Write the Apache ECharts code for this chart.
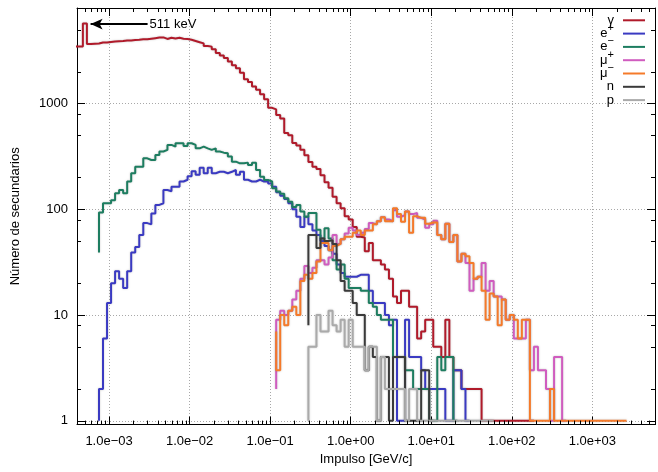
<!DOCTYPE html>
<html>
<head>
<meta charset="utf-8">
<script src="https://cdn.jsdelivr.net/npm/echarts@6/dist/echarts.min.js"></script>
<style>
html,body{margin:0;padding:0;background:#ffffff;}
#chart{width:658px;height:472px;}
</style>
</head>
<body>
<div id="chart"></div>
<script>
// ---------- histogram binning: point k sits at log10(p) = binLog0 + binDLog*k ----------
const binLog0 = -3.425;
const binDLog = 0.05;

// ---------- series values (first bin index + counts per bin, 0 = empty bin) ----------
const gammaStart = 0;
const gammaCounts = [3460,3460,3460,5700,3650,3680,3700,3780,3780,3820,3860,3880,3900,3950,3950,3990,4000,4050,4050,4100,4150,4200,4220,4080,4180,4120,4180,4100,4080,
  4000,3900,3800,3700,3500,3450,3250,3000,2850,2700,2500,2300,2150,1950,1700,1600,1450,1350,1220,1100,910,880,780,720,
  527,500,424,400,365,325,280,253,240,210,180,160,131,114,102,86,80,68,55,54,40,48,33,33,30,27,22,15,13,17,17,12,12,6,7,9,9,5,5,4,9,4,3,3,2,
  0,0,0,2,0,0,0,0,0,0,0,0,0,0,0,0,1];

const ePlusStart = 6;
const ePlusCounts = [1,2,6,13,20,26,22,18,26,39,44,57,74,72,91,110,114,152,148,163,163,183,190,205,229,212,247,219,247,219,226,226,219,226,235,212,226,190,183,183,190,183,183,175,163,145,134,125,114,100,85,68,85,72,63,57,
  50,45,41,38,30,25,23,23,23,24,24,24,17,13,13,13,10,8,9,1,1,9,4,4,4,3,2,2,2,2,2,1,1,3,3,2,1];

const eMinusStart = 6;
const eMinusCounts = [39,93,114,114,122,142,152,142,183,219,253,253,303,292,292,326,352,364,406,391,421,421,397,421,406,377,391,377,364,377,351,343,338,315,282,272,272,276,262,276,235,203,189,183,158,147,140,127,118,105,110,95,85,92,92,
  64,53,66,53,33,27,30,22,18,18,18,17,17,13,12,10,9,9,9,4,4,4,3,3,2,2,2,2,1,1,4,3,4,4,1];

const muPlusStart = 50;
const muPlusCounts = [2,9,11,10,11,14,17,22,29,25,28,33,33,30,35,57,47,52,59,67,63,57,60,65,74,72,77,84,80,77,98,85,88,95,90,92,83,80,67,72,78,57,52,73,49,57,32,38,31,17,22,23,31,17,21,15,15,14,9,10,6,6,6,9,3,5,3,3,2,1,0,4,1];

const muMinusStart = 50;
const muMinusCounts = [7,3,10,8,11,12,10,21,24,22,25,32,48,48,41,45,47,52,55,55,60,63,57,63,63,72,77,84,77,77,102,90,76,95,60,86,83,83,73,75,75,57,52,73,49,57,32,38,36,31,22,23,17,9,16,15,8,14,9,10,9,6,9,9,
  1,1,1,1,1,2,0,0,0,0,0,0,0,0,0,0,0,0,0,0,0,0,0,1];

const nStart = 58;
const nCounts = [8,57,57,43,53,50,51,47,33,21,17,17,13,10,10,3,5,4,1,4,4,1,4,4,4,1,1,1,1,3,3,1];

const pStart = 58;
const pCounts = [1,5,5,10,7,7,11,8,7,9,5,9,5,5,5,3,5,5,1,4,2,2,2,2,2,1,2,2,1,1,0,0,0,0,0,0,0,0,0,0,0,0,0,0,0,0,1];

const seriesNames = ['γ','e+','e−','μ+','μ−','n','p'];
const seriesColors = ['#b01a2a','#3a3ac2','#1d7d60','#d05cbf','#f57a2a','#3a3a3a','#aaaaaa'];
const legendBase = ['γ','e','e','μ','μ','n','p'];
const legendSup  = ['\u200b','+','\u2212','+','\u2212','\u200b','\u200b'];

// ---------- axes / ticks ----------
const xMin = 4e-4, xMax = 6e3;
const yMin = 0.92, yMax = 8000;
const xMinorMult = [2,3,4,5,6,7,8,9];
const yMinorMult = [2,5,8];
const xName = 'Impulso [GeV/c]';
const yName = 'Número de secundarios';

// ---------- annotation ----------
const arrowTail = [3.01e-3, 5640];
const arrowHead = [5.9e-4, 5640];
const arrowText = '511 keV';

const FONT = '"Liberation Sans", Arimo, Arial, Helvetica, sans-serif';

function toPoints(start, counts) {
  const pts = [];
  counts.forEach((c, j) => {
    if (c > 0) pts.push([Math.pow(10, binLog0 + binDLog * (start + j)), c]);
  });
  return pts;
}

const allData = [
  toPoints(gammaStart, gammaCounts),
  toPoints(ePlusStart, ePlusCounts),
  toPoints(eMinusStart, eMinusCounts),
  toPoints(muPlusStart, muPlusCounts),
  toPoints(muMinusStart, muMinusCounts),
  toPoints(nStart, nCounts),
  toPoints(pStart, pCounts)
];

function minorValues(lo, hi, mults) {
  const out = [];
  for (let d = Math.floor(Math.log10(lo)); d <= Math.ceil(Math.log10(hi)); d++) {
    mults.forEach(m => { const v = m * Math.pow(10, d); if (v > lo && v < hi) out.push(v); });
  }
  return out;
}
const xMinorData = minorValues(xMin, xMax, xMinorMult).map(v => [v, 1]);
const yMinorData = minorValues(yMin, yMax, yMinorMult).map(v => [1, v]);

function isDecade(v) {
  const l = Math.log10(v);
  return Math.abs(l - Math.round(l)) < 1e-6;
}
function xLabel(v) {
  if (!isDecade(v)) return '';
  const n = Math.round(Math.log10(v));
  return '1.0e' + (n < 0 ? '\u2212' : '+') + String(Math.abs(n)).padStart(2, '0');
}
function yLabel(v) {
  if (!isDecade(v)) return '';
  return String(Math.round(v));
}

const LEG_H = 22;          // height of one legend label box
const LEG_ROW = 13.3;      // distance between legend rows
const LEG_FIRST = 20.3;    // centre of first legend row

const axisCommon = {
  type: 'log', logBase: 10,
  axisLine: { show: true, onZero: false, lineStyle: { color: '#000', width: 1 } },
  axisTick: { show: true, inside: true, length: 8, lineStyle: { color: '#000', width: 1 } },
  minorTick: { show: false },
  minorSplitLine: { show: false }
};

const lineSeries = seriesNames.map((name, i) => ({
  name: name,
  type: 'line',
  step: 'start',
  data: allData[i],
  showSymbol: false,
  symbol: 'none',
  clip: true,
  color: seriesColors[i],
  itemStyle: { color: seriesColors[i] },
  lineStyle: { color: seriesColors[i], width: 2, shadowColor: 'rgba(90,90,90,0.35)', shadowBlur: 2 },
  emphasis: { disabled: true },
  z: 2 + i * 0.01,
  animation: false
}));

lineSeries[0].markLine = {
  silent: true,
  animation: false,
  symbol: ['none', 'arrow'],
  symbolSize: [8, 12],
  lineStyle: { color: '#000', width: 2, type: 'solid', shadowBlur: 0 },
  label: { show: true, position: 'start', formatter: arrowText, color: '#000', fontSize: 13, fontFamily: FONT, distance: 2 },
  emphasis: { disabled: true },
  data: [[{ coord: arrowTail }, { coord: arrowHead }]]
};

const tickStyle = { stroke: '#000', lineWidth: 1 };

const option = {
  animation: false,
  backgroundColor: '#ffffff',
  textStyle: { fontFamily: FONT },
  grid: { left: 77, top: 8, width: 583, bottom: 47.4, containLabel: false },
  legend: {
    data: seriesNames,
    orient: 'vertical',
    right: 13,
    top: LEG_FIRST - LEG_H / 2,
    align: 'right',
    icon: 'rect',
    itemWidth: 22,
    itemHeight: 2,
    itemGap: LEG_ROW - LEG_H,
    padding: 0,
    selectedMode: false,
    itemStyle: { borderWidth: 0 },
    formatter: name => {
      const i = seriesNames.indexOf(name);
      return '{b|' + legendBase[i] + '}{s|' + legendSup[i] + '}';
    },
    textStyle: {
      fontSize: 13, color: '#000', fontFamily: FONT, lineHeight: LEG_H, padding: [0, 4, 0, 0],
      rich: {
        b: { fontSize: 13, color: '#000', fontFamily: FONT, lineHeight: LEG_H },
        s: { fontSize: 11, color: '#000', fontFamily: FONT, lineHeight: LEG_H, padding: [0, 0, 11, 0] }
      }
    }
  },
  xAxis: [
    Object.assign({}, axisCommon, {
      position: 'bottom', min: xMin, max: xMax, splitNumber: 7,
      name: xName, nameLocation: 'middle', nameGap: 27,
      nameTextStyle: { color: '#000', fontSize: 13, fontFamily: FONT },
      axisLabel: { show: true, formatter: xLabel, color: '#000', fontSize: 13, fontFamily: FONT, margin: 10 },
      splitLine: { show: true, lineStyle: { color: '#a8a8a8', width: 1, type: [1, 2] } }
    }),
    Object.assign({}, axisCommon, {
      position: 'top', min: xMin, max: xMax, splitNumber: 7,
      axisLabel: { show: false }, splitLine: { show: false }
    })
  ],
  yAxis: [
    Object.assign({}, axisCommon, {
      position: 'left', min: yMin, max: yMax, splitNumber: 4,
      name: yName, nameLocation: 'middle', nameGap: 55, nameRotate: 90,
      nameTextStyle: { color: '#000', fontSize: 13, fontFamily: FONT },
      axisLabel: { show: true, formatter: yLabel, color: '#000', fontSize: 13, fontFamily: FONT, margin: 9 },
      splitLine: { show: true, lineStyle: { color: '#a8a8a8', width: 1, type: [1, 2] } }
    }),
    Object.assign({}, axisCommon, {
      position: 'right', min: yMin, max: yMax, splitNumber: 4,
      axisLabel: { show: false }, splitLine: { show: false }
    })
  ],
  series: lineSeries.concat([
    {
      name: 'xMinorTicks', type: 'custom', silent: true, clip: false, z: 5,
      data: xMinorData, encode: { x: 0, y: 1 },
      renderItem: (params, api) => {
        const cs = params.coordSys;
        const px = Math.round(api.coord([api.value(0), 1])[0]) + 0.5;
        return { type: 'group', children: [
          { type: 'line', shape: { x1: px, y1: cs.y + cs.height, x2: px, y2: cs.y + cs.height - 4 }, style: tickStyle },
          { type: 'line', shape: { x1: px, y1: cs.y, x2: px, y2: cs.y + 4 }, style: tickStyle }
        ]};
      }
    },
    {
      name: 'yMinorTicks', type: 'custom', silent: true, clip: false, z: 5,
      data: yMinorData, encode: { x: 0, y: 1 },
      renderItem: (params, api) => {
        const cs = params.coordSys;
        const py = Math.round(api.coord([1, api.value(1)])[1]) + 0.5;
        return { type: 'group', children: [
          { type: 'line', shape: { x1: cs.x, y1: py, x2: cs.x + 4, y2: py }, style: tickStyle },
          { type: 'line', shape: { x1: cs.x + cs.width, y1: py, x2: cs.x + cs.width - 4, y2: py }, style: tickStyle }
        ]};
      }
    }
  ])
};

const chart = echarts.init(document.getElementById('chart'), null, { renderer: 'canvas' });
chart.setOption(option);
</script>
</body>
</html>
